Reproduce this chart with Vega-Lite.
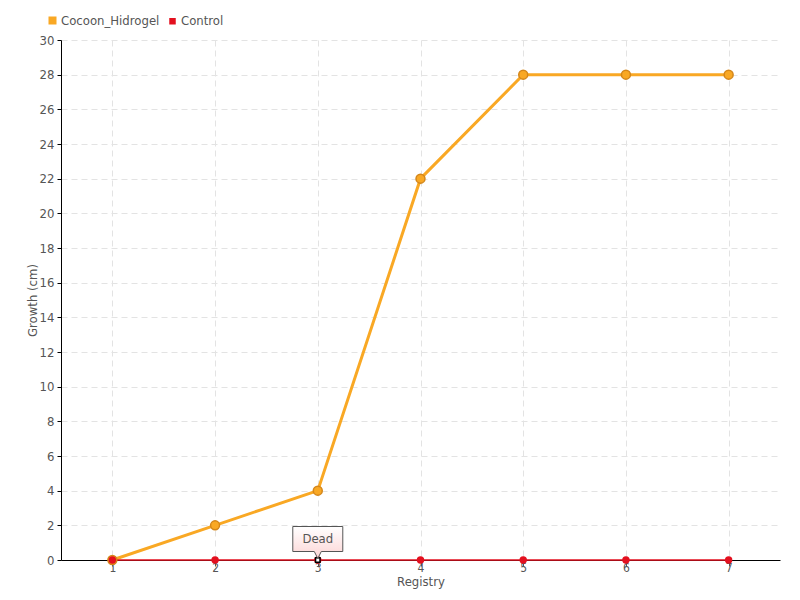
{
  "$schema": "https://vega.github.io/schema/vega-lite/v6.json",
  "autosize": "none",
  "padding": {"left": 61, "top": 40, "right": 20, "bottom": 40},
  "width": 719,
  "height": 520,
  "background": "white",
  "config": {
    "font": "DejaVu Sans Condensed",
    "view": {"stroke": null},
    "axis": {"labelColor": "#555", "titleColor": "#555", "labelFontSize": 13, "titleFontSize": 13, "titleFontWeight": "normal", "gridColor": "#e3e3e3", "gridDash": [6, 4], "domainColor": "#000"}
  },
  "datasets": {
    "growth": [
      {"registry": "1", "series": "Cocoon_Hidrogel", "growth": 0},
      {"registry": "2", "series": "Cocoon_Hidrogel", "growth": 2},
      {"registry": "3", "series": "Cocoon_Hidrogel", "growth": 4},
      {"registry": "4", "series": "Cocoon_Hidrogel", "growth": 22},
      {"registry": "5", "series": "Cocoon_Hidrogel", "growth": 28},
      {"registry": "6", "series": "Cocoon_Hidrogel", "growth": 28},
      {"registry": "7", "series": "Cocoon_Hidrogel", "growth": 28},
      {"registry": "1", "series": "Control", "growth": 0},
      {"registry": "2", "series": "Control", "growth": 0},
      {"registry": "3", "series": "Control", "growth": 0},
      {"registry": "4", "series": "Control", "growth": 0},
      {"registry": "5", "series": "Control", "growth": 0},
      {"registry": "6", "series": "Control", "growth": 0},
      {"registry": "7", "series": "Control", "growth": 0}
    ],
    "note": [{"registry": "3", "growth": 0, "label": "Dead"}]
  },
  "encoding": {
    "x": {"field": "registry", "type": "ordinal", "scale": {"type": "point", "padding": 0.5},
      "axis": {"title": "Registry", "labelAngle": 0, "grid": true, "tickColor": "#555", "tickSize": 6, "labelFontSize": 12, "labelPadding": -4, "titlePadding": 2, "domainColor": "#000"}},
    "y": {"field": "growth", "type": "quantitative", "scale": {"domain": [0, 30], "nice": false},
      "axis": {"title": "Growth (cm)", "values": [0,2,4,6,8,10,12,14,16,18,20,22,24,26,28,30], "tickColor": "#000", "tickSize": 4, "labelPadding": 3, "titlePadding": 0, "grid": true}}
  },
  "layer": [
    {
      "data": {"name": "growth"},
      "mark": {"type": "line"},
      "encoding": {
        "color": {"field": "series", "type": "nominal",
          "scale": {"domain": ["Cocoon_Hidrogel", "Control"], "range": ["#f9a824", "#e3101f"]},
          "legend": {"title": null, "orient": "none", "legendX": -15, "legendY": -26, "direction": "horizontal", "symbolType": "square", "symbolSize": 25, "symbolStrokeWidth": 0, "labelFontSize": 13, "labelColor": "#555", "labelOffset": 2, "columnPadding": 6, "symbolOpacity": 1}},
        "strokeWidth": {"field": "series", "type": "nominal", "scale": {"domain": ["Cocoon_Hidrogel", "Control"], "range": [3, 1.5]}, "legend": null}
      }
    },
    {
      "data": {"name": "growth"},
      "transform": [{"filter": "datum.series === 'Cocoon_Hidrogel'"}],
      "mark": {"type": "point", "filled": true, "size": 80, "stroke": "#d4861a", "strokeWidth": 1.5, "opacity": 1},
      "encoding": {"color": {"field": "series", "type": "nominal"}}
    },
    {
      "data": {"name": "growth"},
      "transform": [{"filter": "datum.series === 'Control'"}],
      "mark": {"type": "point", "filled": true, "size": 55, "strokeWidth": 0, "opacity": 1},
      "encoding": {"color": {"field": "series", "type": "nominal"}}
    },
    {
      "data": {"name": "note"},
      "mark": {"type": "point", "shape": "square", "size": 20, "fill": "white", "stroke": "black", "strokeWidth": 1.5, "opacity": 1}
    },
    {
      "data": {"name": "note"},
      "mark": {"type": "point", "shape": "M-1,-0.5H1V0.5H0.14L0,0.78L-0.14,0.5H-1Z", "size": 2500, "yOffset": -21, "stroke": "#555", "strokeWidth": 1, "opacity": 1,
        "fill": {"gradient": "linear", "x1": 0, "y1": 0, "x2": 0, "y2": 1, "stops": [{"offset": 0, "color": "#ffffff"}, {"offset": 1, "color": "#fcd4d4"}]}}
    },
    {
      "data": {"name": "note"},
      "mark": {"type": "text", "yOffset": -21, "fontSize": 13, "color": "#555"},
      "encoding": {"text": {"field": "label"}}
    }
  ]
}
